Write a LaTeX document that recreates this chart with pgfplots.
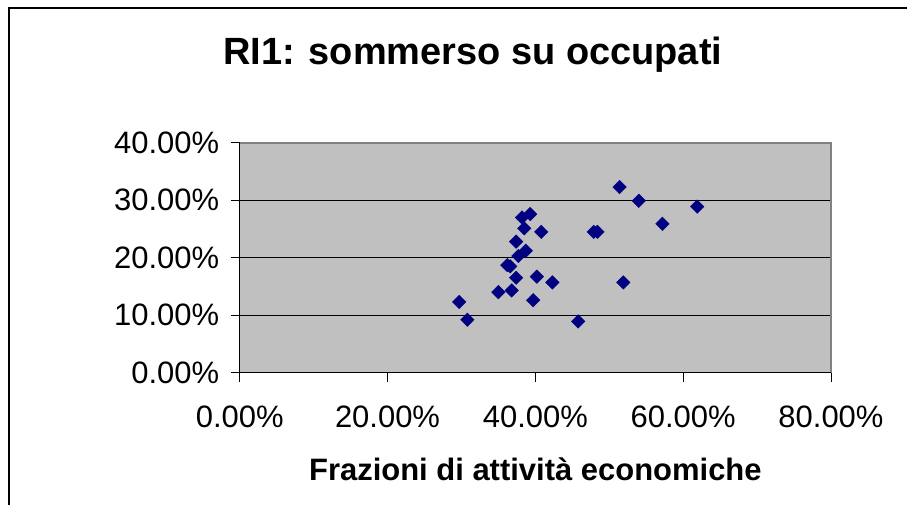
\documentclass[border=0pt]{standalone}
\usepackage{pgfplots}
\pgfplotsset{compat=1.18}
\usepackage{fontspec}
\setmainfont{Liberation Sans}
\definecolor{navy}{RGB}{0,0,128}
\definecolor{plotgrey}{RGB}{192,192,192}
\definecolor{framegrey}{RGB}{128,128,128}
\begin{document}
\begin{tikzpicture}
\path (0pt,0pt) rectangle (908pt,506pt);
\draw[line width=2.2pt] (9pt,0pt) -- (9pt,498pt) -- (908pt,498pt);
\begin{axis}[
  at={(240pt,133pt)}, anchor=south west,
  scale only axis, width=592pt, height=230pt,
  xmin=0, xmax=80, ymin=0, ymax=40,
  xtick={0,20,40,60,80},
  xticklabels={0.00\%,20.00\%,40.00\%,60.00\%,80.00\%},
  ytick={0,10,20,30,40},
  yticklabels={0.00\%,10.00\%,20.00\%,30.00\%,40.00\%},
  xtick pos=bottom, ytick pos=left,
  tick align=outside,
  major tick length=9pt,
  tick style={black, line width=0.9pt},
  axis background/.style={fill=plotgrey},
  axis line style={draw=none},
  ymajorgrids, grid style={black, line width=0.9pt},
  ticklabel style={font=\fontsize{31}{31}\selectfont},
  xticklabel style={yshift=-21pt},
  yticklabel style={xshift=-8pt},
  title={RI1: sommerso su occupati},
  title style={at={(axis description cs:0.394,1.356)}, anchor=center, font=\bfseries\fontsize{38}{38}\selectfont},
  xlabel={Frazioni di attività economiche},
  xlabel style={at={(axis description cs:0.5,-0.422)}, anchor=center, font=\bfseries\fontsize{31}{31}\selectfont},
  clip=false,
]
\draw[draw=framegrey, line width=1.8pt] (axis cs:0,40) -- (axis cs:80,40) -- (axis cs:80,0);
\draw[black, line width=1.4pt] (axis cs:0,40) -- (axis cs:0,0) -- (axis cs:80,0);
\addplot[only marks, mark=square*, mark size=4.8pt, mark options={rotate=45, fill=navy, draw=navy}] coordinates {
(29.7,12.3) (30.8,9.2) (35.0,14.0) (36.8,14.3) (37.4,16.5)
(36.2,18.7) (36.6,18.5) (37.7,20.3) (38.7,21.2) (37.4,22.8)
(38.5,25.1) (38.2,27.0) (39.3,27.6) (40.8,24.5) (40.2,16.7)
(39.7,12.6) (42.3,15.7) (45.8,8.9) (47.9,24.5) (48.4,24.5)
(51.4,32.3) (54.0,29.9) (61.9,28.9) (57.2,25.9) (51.9,15.7)
};
\end{axis}
\end{tikzpicture}
\end{document}
